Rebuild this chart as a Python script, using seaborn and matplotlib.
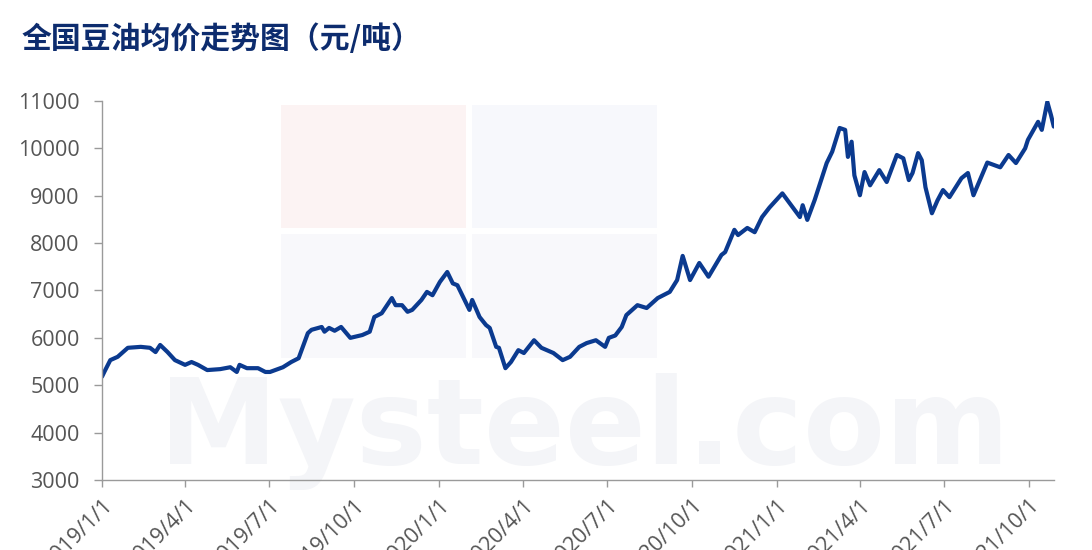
import numpy as np
import pandas as pd
import matplotlib
matplotlib.use('Agg')
import matplotlib.pyplot as plt
import seaborn as sns
from matplotlib.patches import Rectangle

# ----- data (national soybean oil average price, yuan/ton) -----
dates = ['2019-01-01', '2019-01-04', '2019-01-10', '2019-01-18', '2019-01-29', '2019-02-12',
         '2019-02-22', '2019-02-28', '2019-03-05', '2019-03-13', '2019-03-21', '2019-04-01',
         '2019-04-08', '2019-04-15', '2019-04-25', '2019-05-09', '2019-05-20', '2019-05-27',
         '2019-05-30', '2019-06-07', '2019-06-19', '2019-06-27', '2019-07-02', '2019-07-16',
         '2019-07-25', '2019-08-02', '2019-08-12', '2019-08-16', '2019-08-27', '2019-08-30',
         '2019-09-04', '2019-09-10', '2019-09-17', '2019-09-27', '2019-10-10', '2019-10-18',
         '2019-10-23', '2019-10-31', '2019-11-11', '2019-11-15', '2019-11-22', '2019-11-28',
         '2019-12-03', '2019-12-13', '2019-12-19', '2019-12-25', '2020-01-02', '2020-01-10',
         '2020-01-16', '2020-01-21', '2020-02-03', '2020-02-06', '2020-02-14', '2020-02-21',
         '2020-02-25', '2020-03-03', '2020-03-06', '2020-03-13', '2020-03-19', '2020-03-27',
         '2020-04-02', '2020-04-13', '2020-04-21', '2020-05-04', '2020-05-14', '2020-05-22',
         '2020-06-01', '2020-06-09', '2020-06-19', '2020-06-29', '2020-07-03', '2020-07-10',
         '2020-07-17', '2020-07-22', '2020-08-03', '2020-08-13', '2020-08-25', '2020-09-07',
         '2020-09-15', '2020-09-21', '2020-09-29', '2020-10-09', '2020-10-19', '2020-11-02',
         '2020-11-06', '2020-11-16', '2020-11-20', '2020-11-30', '2020-12-08', '2020-12-16',
         '2020-12-24', '2021-01-07', '2021-01-18', '2021-01-26', '2021-01-29', '2021-02-03',
         '2021-02-11', '2021-02-24', '2021-03-02', '2021-03-10', '2021-03-16', '2021-03-19',
         '2021-03-23', '2021-03-26', '2021-04-01', '2021-04-06', '2021-04-12', '2021-04-22',
         '2021-04-30', '2021-05-11', '2021-05-18', '2021-05-24', '2021-05-28', '2021-06-03',
         '2021-06-07', '2021-06-11', '2021-06-18', '2021-06-24', '2021-06-30', '2021-07-07',
         '2021-07-20', '2021-07-27', '2021-08-02', '2021-08-17', '2021-08-31', '2021-09-09',
         '2021-09-17', '2021-09-27', '2021-09-30', '2021-10-11', '2021-10-15', '2021-10-21',
         '2021-10-25', '2021-10-28']
prices = [5180, 5300, 5530, 5600, 5790, 5810,
          5790, 5700, 5850, 5700, 5530, 5430,
          5490, 5430, 5320, 5340, 5380, 5280,
          5430, 5360, 5360, 5280, 5280, 5380,
          5490, 5570, 6100, 6170, 6230, 6130,
          6210, 6150, 6230, 6000, 6060, 6130,
          6440, 6520, 6840, 6690, 6690, 6550,
          6590, 6800, 6970, 6900, 7180, 7390,
          7150, 7110, 6590, 6800, 6440, 6270,
          6210, 5810, 5790, 5360, 5490, 5740,
          5680, 5950, 5790, 5680, 5530, 5600,
          5810, 5890, 5950, 5810, 6000, 6050,
          6230, 6480, 6690, 6630, 6840, 6970,
          7220, 7730, 7220, 7580, 7290, 7750,
          7810, 8280, 8170, 8320, 8230, 8550,
          8750, 9050, 8760, 8550, 8800, 8490,
          8910, 9690, 9930, 10430, 10390, 9820,
          10140, 9430, 9010, 9500, 9220, 9540,
          9290, 9860, 9790, 9330, 9480, 9900,
          9750, 9180, 8630, 8900, 9120, 8970,
          9370, 9480, 9010, 9700, 9600, 9860,
          9690, 10000, 10180, 10560, 10390, 10980,
          10700, 10460]

tick_dates = ['2019-01-01', '2019-04-01', '2019-07-01', '2019-10-01', '2020-01-01', '2020-04-01',
              '2020-07-01', '2020-10-01', '2021-01-01', '2021-04-01', '2021-07-01', '2021-10-01']
tick_labels = ['2019/1/1', '2019/4/1', '2019/7/1', '2019/10/1', '2020/1/1', '2020/4/1',
               '2020/7/1', '2020/10/1', '2021/1/1', '2021/4/1', '2021/7/1', '2021/10/1']
y_ticks = [3000, 4000, 5000, 6000, 7000, 8000, 9000, 10000, 11000]

title = '全国豆油均价走势图（元/吨）'

df = pd.DataFrame({'date': pd.to_datetime(dates), 'price': prices})

sns.set_style('white')
plt.rcParams['font.family'] = ['Open Sans', 'DejaVu Sans']

fig = plt.figure(figsize=(10.92, 5.5), dpi=100)
fig.patch.set_facecolor('white')

# faint watermark behind the plot
wm = [(0.257, 0.585, '#fcf3f3'), (0.432, 0.585, '#f7f8fc'),
      (0.257, 0.349, '#f8f8fb'), (0.432, 0.349, '#f8f8fb')]
for x0, y0, c in wm:
    fig.patches.append(Rectangle((x0, y0), 0.17, 0.225, transform=fig.transFigure,
                                 facecolor=c, edgecolor='none', zorder=-2))
fig.text(0.535, 0.215, 'Mysteel.com', fontsize=86, fontweight='bold', color='#f4f5f8',
         ha='center', va='center', family=['DejaVu Sans'], zorder=-1)

ax = fig.add_axes([0.0934, 0.1273, 0.8716, 0.6891])
ax.set_zorder(2)
ax.patch.set_alpha(0)

sns.lineplot(data=df, x='date', y='price', ax=ax, color='#0b3a8f', linewidth=3)

ax.set_xlim(pd.Timestamp('2019-01-01'), pd.Timestamp('2021-10-28'))
ax.set_ylim(3000, 11000)
ax.set_yticks(y_ticks)
ax.set_xticks(pd.to_datetime(tick_dates))
ax.set_xticklabels(tick_labels, rotation=45, ha='right', rotation_mode='anchor')
ax.set_xlabel('')
ax.set_ylabel('')

for edge in ['top', 'right']:
    ax.spines[edge].set_visible(False)
for edge in ['left', 'bottom']:
    ax.spines[edge].set_color('#9a9a9a')
    ax.spines[edge].set_linewidth(1.0)

ax.tick_params(axis='y', direction='out', length=6, width=1, color='#9a9a9a',
               labelsize=15.5, labelcolor='#555555', pad=10, left=True)
ax.tick_params(axis='x', direction='out', length=5, width=1, color='#9a9a9a',
               labelsize=15.5, labelcolor='#555555', pad=6, bottom=True)

fig.text(0.02, 0.93, title, fontsize=21.5, fontweight='bold', color='#0d2c6e',
         ha='left', va='center', family=['Noto Sans CJK SC', 'DejaVu Sans'])

fig.savefig('out.png', dpi=100)
